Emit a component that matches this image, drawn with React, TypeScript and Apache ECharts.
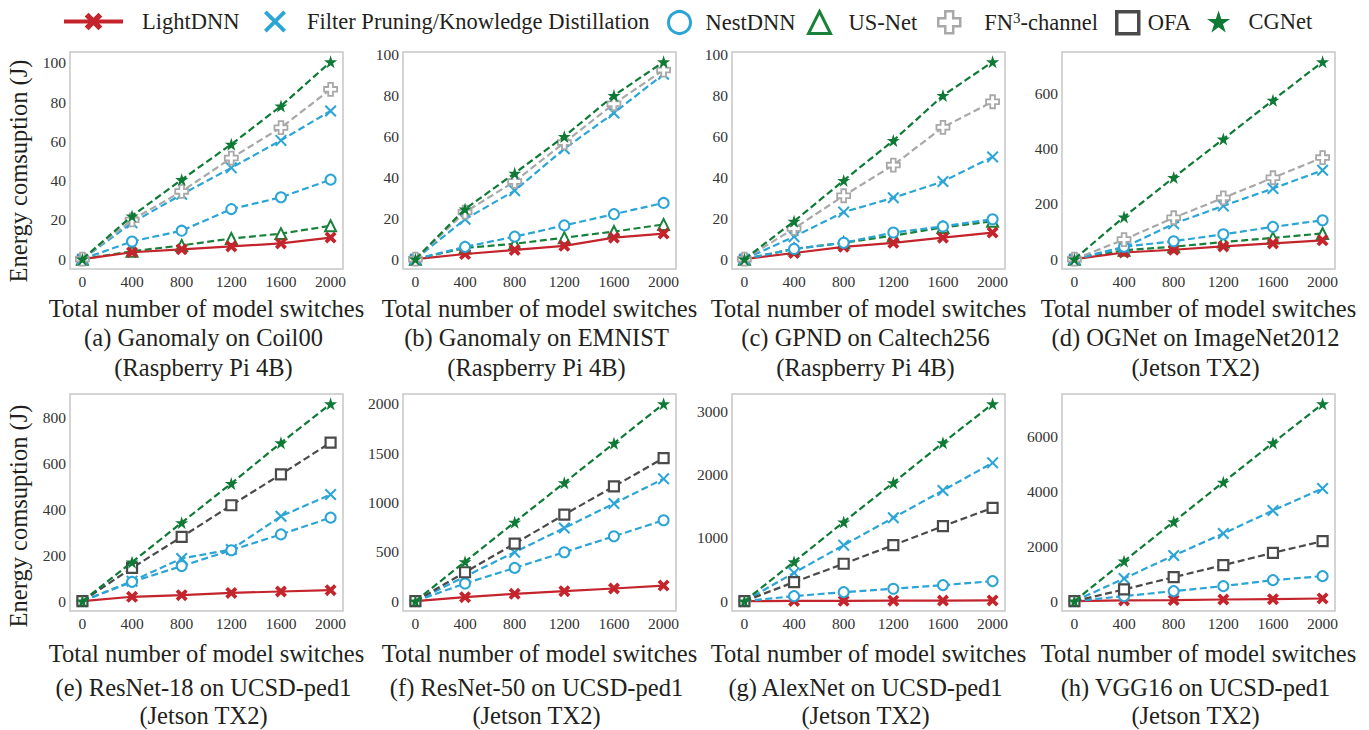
import React, { useEffect, useRef } from 'react';
import * as echarts from 'echarts';

const FONT = "'Liberation Serif', 'Times New Roman', Times, serif";
const TEXT = '#231f20';

// ---- data ----
const switches = [0, 400, 800, 1200, 1600, 2000];

const aLight = [0, 3.5, 5, 6.5, 8, 11];
const aFilter = [0, 18.5, 33, 46.5, 60.5, 75.5];
const aNest = [0, 9, 14.5, 25.5, 31.5, 40.5];
const aUS = [0, 4, 7, 10.5, 13, 17];
const aFN3 = [0, 20, 34.5, 51.5, 67, 86.5];
const aCG = [0, 22, 40.5, 58.5, 78, 100.5];

const bLight = [0, 2.5, 4.5, 6.5, 10.5, 12.5];
const bFilter = [0, 19.5, 33.5, 54, 71.5, 90.5];
const bNest = [0, 6, 11, 16.5, 22, 27.5];
const bUS = [0, 5.5, 7.5, 10.5, 13.5, 17];
const bFN3 = [0, 23, 38, 57, 76, 92.5];
const bCG = [0, 24.5, 42, 60, 80, 96.5];

const cLight = [0, 3, 6, 8, 10.5, 13];
const cFilter = [0, 11, 23, 30, 38, 50];
const cNest = [0, 5, 8, 13, 16, 19.5];
const cUS = [0, 5, 8, 11.5, 15.5, 18.5];
const cFN3 = [0, 15, 31, 46, 64.5, 77];
const cCG = [0, 18.5, 38.5, 58, 80, 96.5];

const dLight = [0, 24, 34, 46, 57, 68];
const dFilter = [0, 42, 128, 193, 256, 322];
const dNest = [0, 45, 65, 90, 117, 141];
const dUS = [0, 32, 45, 62, 77, 93];
const dFN3 = [0, 71, 150, 222, 295, 368];
const dCG = [0, 153, 296, 435, 576, 715];

const eLight = [0, 19, 26, 36, 42, 48];
const eFilter = [0, 87, 186, 225, 370, 465];
const eNest = [0, 84, 153, 222, 291, 364];
const eOFA = [0, 145, 280, 418, 553, 691];
const eCG = [0, 170, 342, 513, 690, 860];

const fLight = [0, 40, 74, 101, 128, 158];
const fFilter = [0, 250, 496, 742, 990, 1240];
const fNest = [0, 179, 337, 496, 658, 820];
const fOFA = [0, 293, 583, 877, 1163, 1450];
const fCG = [0, 400, 800, 1200, 1600, 2000];

const gLight = [0, 3, 5, 7, 9, 11];
const gFilter = [0, 447, 884, 1316, 1747, 2184];
const gNest = [0, 79, 142, 195, 253, 316];
const gOFA = [0, 300, 590, 884, 1184, 1474];
const gCG = [0, 620, 1250, 1870, 2500, 3115];

const hLight = [0, 25, 37, 60, 73, 97];
const hFilter = [0, 828, 1667, 2470, 3310, 4113];
const hNest = [0, 183, 365, 548, 767, 913];
const hOFA = [0, 426, 876, 1314, 1765, 2190];
const hCG = [0, 1460, 2900, 4345, 5780, 7205];

const xTicks = [0, 400, 800, 1200, 1600, 2000];
const yTicksA = [0, 20, 40, 60, 80, 100];
const yTicksB = [0, 20, 40, 60, 80, 100];
const yTicksC = [0, 20, 40, 60, 80, 100];
const yTicksD = [0, 200, 400, 600];
const yTicksE = [0, 200, 400, 600, 800];
const yTicksF = [0, 500, 1000, 1500, 2000];
const yTicksG = [0, 1000, 2000, 3000];
const yTicksH = [0, 2000, 4000, 6000];

const titlesLine1 = [
  '(a) Ganomaly on Coil00',
  '(b) Ganomaly on EMNIST',
  '(c) GPND on Caltech256',
  '(d) OGNet on ImageNet2012',
  '(e) ResNet-18 on UCSD-ped1',
  '(f) ResNet-50 on UCSD-ped1',
  '(g) AlexNet on UCSD-ped1',
  '(h) VGG16 on UCSD-ped1',
];
const titlesLine2 = [
  '(Raspberry Pi 4B)', '(Raspberry Pi 4B)', '(Raspberry Pi 4B)', '(Jetson TX2)',
  '(Jetson TX2)', '(Jetson TX2)', '(Jetson TX2)', '(Jetson TX2)',
];

const N_LIGHT = 'LightDNN';
const N_FILTER = 'Filter Pruning/Knowledge Distillation';
const N_NEST = 'NestDNN';
const N_US = 'US-Net';
const N_FN3 = 'FN3-channel';
const N_OFA = 'OFA';
const N_CG = 'CGNet';

const panels = [
  { ticks: yTicksA, s: [[N_LIGHT, aLight], [N_FILTER, aFilter], [N_NEST, aNest], [N_US, aUS], [N_FN3, aFN3], [N_CG, aCG]] },
  { ticks: yTicksB, s: [[N_LIGHT, bLight], [N_FILTER, bFilter], [N_NEST, bNest], [N_US, bUS], [N_FN3, bFN3], [N_CG, bCG]] },
  { ticks: yTicksC, s: [[N_LIGHT, cLight], [N_FILTER, cFilter], [N_NEST, cNest], [N_US, cUS], [N_FN3, cFN3], [N_CG, cCG]] },
  { ticks: yTicksD, s: [[N_LIGHT, dLight], [N_FILTER, dFilter], [N_NEST, dNest], [N_US, dUS], [N_FN3, dFN3], [N_CG, dCG]] },
  { ticks: yTicksE, s: [[N_LIGHT, eLight], [N_FILTER, eFilter], [N_NEST, eNest], [N_OFA, eOFA], [N_CG, eCG]] },
  { ticks: yTicksF, s: [[N_LIGHT, fLight], [N_FILTER, fFilter], [N_NEST, fNest], [N_OFA, fOFA], [N_CG, fCG]] },
  { ticks: yTicksG, s: [[N_LIGHT, gLight], [N_FILTER, gFilter], [N_NEST, gNest], [N_OFA, gOFA], [N_CG, gCG]] },
  { ticks: yTicksH, s: [[N_LIGHT, hLight], [N_FILTER, hFilter], [N_NEST, hNest], [N_OFA, hOFA], [N_CG, hCG]] },
] as { ticks: number[]; s: [string, number[]][] }[];

// ---- styles ----
const RED = '#c4242b';
const BLUE = '#2ba4d6';
const GREEN_US = '#18823a';
const GREEN_CG = '#0f7a36';
const GRAY = '#a8a8a8';
const DARK = '#4a4a4a';

const X_THIN = 'path://M0 12L12 0L50 38L88 0L100 12L62 50L100 88L88 100L50 62L12 100L0 88L38 50Z';
const X_THICK = 'path://M0 22L22 0L50 28L78 0L100 22L72 50L100 78L78 100L50 72L22 100L0 78L28 50Z';
const PLUS = 'path://M32 0L68 0L68 32L100 32L100 68L68 68L68 100L32 100L32 68L0 68L0 32L32 32Z';
const STAR = 'path://M50 0L61.2 34.5L97.6 34.5L68.2 55.9L79.4 90.5L50 69.1L20.6 90.5L31.8 55.9L2.4 34.5L38.8 34.5Z';

const methodStyle: Record<string, any> = {
  [N_LIGHT]: { color: RED, dashed: false, symbol: X_THICK, size: 12, hollow: false, z: 3 },
  [N_FILTER]: { color: BLUE, dashed: true, symbol: X_THIN, size: 12, hollow: false, z: 4 },
  [N_NEST]: { color: BLUE, dashed: true, symbol: 'circle', size: 10, hollow: true, bw: 2, z: 5 },
  [N_US]: { color: GREEN_US, dashed: true, symbol: 'triangle', size: 11, hollow: true, bw: 2, z: 2 },
  [N_FN3]: { color: GRAY, dashed: true, symbol: PLUS, size: 13, hollow: true, bw: 1.8, z: 6 },
  [N_OFA]: { color: DARK, dashed: true, symbol: 'rect', size: 10, hollow: true, bw: 2.2, z: 6 },
  [N_CG]: { color: GREEN_CG, dashed: true, symbol: STAR, size: 13, hollow: false, z: 8 },
};

const gridLefts = [70, 403, 732, 1062];
const gridTops = [52, 394];
const GW = 273;
const GH = 217;

function buildOption() {
  const grid: any[] = [];
  const xAxis: any[] = [];
  const yAxis: any[] = [];
  const series: any[] = [];
  const graphic: any[] = [];

  panels.forEach((p, i) => {
    const col = i % 4;
    const row = Math.floor(i / 4);
    const left = gridLefts[col];
    const top = gridTops[row];
    grid.push({
      left, top, width: GW, height: GH, show: true,
      borderColor: '#c6c6c6', borderWidth: 1.5, backgroundColor: 'transparent',
      containLabel: false, outerBoundsMode: 'none',
    });
    const dataMax = Math.max(...p.s.map((e) => Math.max(...e[1])));
    xAxis.push({
      type: 'value', gridIndex: i, min: -100, max: 2100,
      axisLine: { show: false }, axisTick: { show: false }, splitLine: { show: false },
      axisLabel: {
        customValues: xTicks, formatter: (v: number) => String(v),
        fontSize: 15.5, fontFamily: FONT, color: '#333', margin: 4,
      },
      name: 'Total number of model switches', nameLocation: 'middle',
      nameGap: row === 0 ? 27 : 30,
      nameTextStyle: { fontSize: 24.5, fontFamily: FONT, color: TEXT },
    });
    yAxis.push({
      type: 'value', gridIndex: i, min: -0.05 * dataMax, max: 1.05 * dataMax,
      axisLine: { show: false }, axisTick: { show: false }, splitLine: { show: false },
      axisLabel: {
        customValues: p.ticks, formatter: (v: number) => String(v),
        fontSize: 15.5, fontFamily: FONT, color: '#333', margin: 4,
      },
    });
    p.s.forEach(([name, vals]) => {
      const st = methodStyle[name];
      series.push({
        type: 'line', name, xAxisIndex: i, yAxisIndex: i,
        data: switches.map((x, k) => [x, vals[k]]),
        symbol: st.symbol, symbolSize: st.size, showSymbol: true,
        lineStyle: { color: st.color, width: 2.2, type: st.dashed ? [7, 3.5] : 'solid' },
        itemStyle: st.hollow
          ? { color: '#ffffff', borderColor: st.color, borderWidth: st.bw }
          : { color: st.color, borderWidth: 0 },
        z: st.z, silent: true, emphasis: { disabled: true },
      });
    });
    const cx = left + GW / 2 - 3;
    graphic.push({
      type: 'text', x: cx, y: row === 0 ? 337 : 687,
      style: { text: titlesLine1[i], fontSize: 24.5, fontFamily: FONT, fill: TEXT, textAlign: 'center', textVerticalAlign: 'middle' },
    });
    graphic.push({
      type: 'text', x: cx, y: row === 0 ? 367 : 715,
      style: { text: titlesLine2[i], fontSize: 24.5, fontFamily: FONT, fill: TEXT, textAlign: 'center', textVerticalAlign: 'middle' },
    });
  });

  [171, 516].forEach((yc) => {
    graphic.push({
      type: 'text', x: 18, y: yc, rotation: Math.PI / 2,
      style: { text: 'Energy comsuption (J)', fontSize: 24.5, fontFamily: FONT, fill: TEXT, textAlign: 'center', textVerticalAlign: 'middle' },
    });
  });

  const legendDefs = [
    { name: N_LIGHT, left: 62, w: 59, pad: 14, icon: undefined, itemStyle: undefined },
    { name: N_FILTER, left: 264, w: 22, pad: 16, icon: X_THIN, itemStyle: { color: BLUE, borderWidth: 0 } },
    { name: N_NEST, left: 667, w: 22, pad: 10, icon: 'circle', itemStyle: { color: '#fff', borderColor: BLUE, borderWidth: 3 } },
    { name: N_US, left: 807, w: 22, pad: 13, icon: 'triangle', itemStyle: { color: '#fff', borderColor: GREEN_US, borderWidth: 3 } },
    { name: N_FN3, left: 937, w: 22, pad: 19, icon: PLUS, itemStyle: { color: '#fff', borderColor: GRAY, borderWidth: 2.5 } },
    { name: N_OFA, left: 1115, w: 22, pad: 4, icon: 'rect', itemStyle: { color: '#fff', borderColor: DARK, borderWidth: 3.5 } },
    { name: N_CG, left: 1207, w: 24, pad: 13, icon: STAR, itemStyle: { color: GREEN_CG, borderWidth: 0 } },
  ];

  const legend = legendDefs.map((d) => {
    const item: any = { name: d.name };
    if (d.icon) item.icon = d.icon;
    if (d.itemStyle) item.itemStyle = d.itemStyle;
    return {
      left: d.left, top: 10, padding: 0, itemWidth: d.w, itemHeight: 22,
      selectedMode: false, data: [item],
      lineStyle: { width: 4 },
      formatter: (n: string) => (n === N_FN3 ? 'FN{s|3}-channel' : n),
      textStyle: {
        fontSize: 22.5, fontFamily: FONT, color: TEXT, padding: [0, 0, 0, d.pad],
        rich: { s: { fontSize: 15, fontFamily: FONT, color: TEXT, verticalAlign: 'top', padding: [0, 0, 8, 0] } },
      },
    };
  });

  return {
    animation: false,
    backgroundColor: '#ffffff',
    grid, xAxis, yAxis, series, legend, graphic,
    tooltip: { show: false },
  };
}

export default function App() {
  const ref = useRef<HTMLDivElement>(null);
  useEffect(() => {
    if (!ref.current) return;
    const chart = echarts.init(ref.current, null, { renderer: 'svg' });
    chart.setOption(buildOption() as any);
    return () => chart.dispose();
  }, []);
  return (
    <div
      ref={ref}
      style={{ position: 'absolute', left: 0, top: 0, width: 1369, height: 730, background: '#fff' }}
    />
  );
}
